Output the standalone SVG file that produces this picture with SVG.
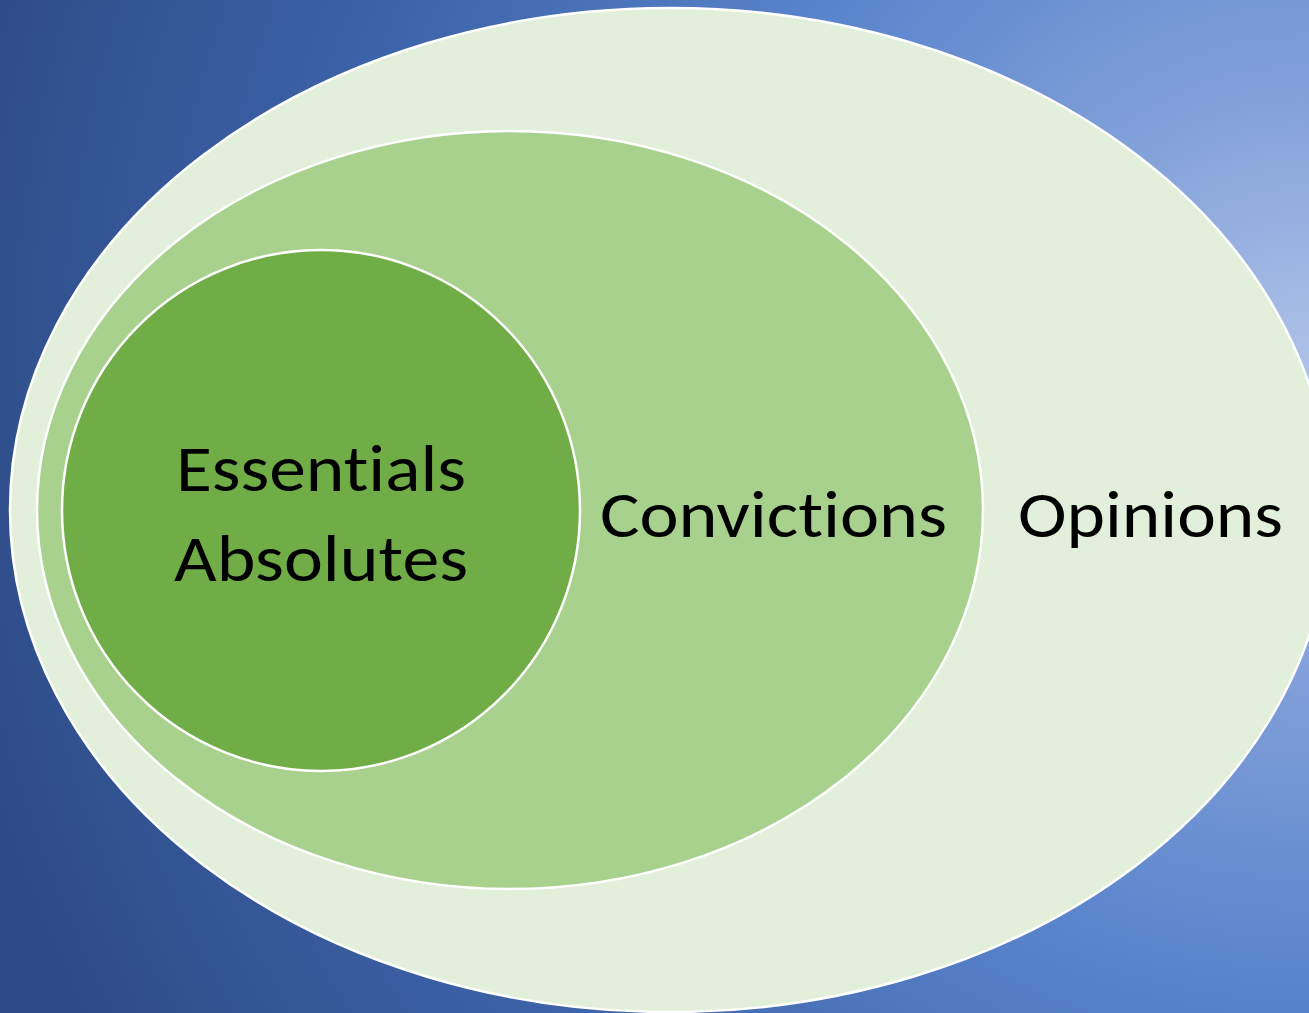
<svg xmlns="http://www.w3.org/2000/svg" width="1309" height="1013" viewBox="0 0 1309 1013">
<defs>
<radialGradient id="bg" gradientUnits="userSpaceOnUse" cx="1309" cy="380" r="1420">
<stop offset="0" stop-color="#AFC3E7"/>
<stop offset="0.22" stop-color="#7F9ED8"/>
<stop offset="0.42" stop-color="#5A84CC"/>
<stop offset="0.7" stop-color="#3C62A8"/>
<stop offset="1" stop-color="#2C4983"/>
</radialGradient>
<style>
.ring{stroke:#FFFFFF;stroke-width:2.5}
.lbl{font-family:Carlito,Calibri,Lato,"Liberation Sans",sans-serif;font-size:65px;fill:#000000;text-anchor:middle;font-variant-ligatures:none;font-feature-settings:"liga" 0}
</style>
</defs>
<rect x="0" y="0" width="1309" height="1013" fill="url(#bg)"/>
<g id="opinions">
<ellipse class="ring" cx="670" cy="510" rx="660" ry="502" fill="#E2EFDA"/>
<text class="lbl" x="1150.5" y="537" textLength="265" lengthAdjust="spacingAndGlyphs">Opinions</text>
</g>
<g id="convictions">
<ellipse class="ring" cx="510" cy="510" rx="473" ry="379" fill="#A9D18E"/>
<text class="lbl" x="773.5" y="537" textLength="347" lengthAdjust="spacingAndGlyphs">Convictions</text>
</g>
<g id="essentials">
<ellipse class="ring" cx="321" cy="510.5" rx="259" ry="260.5" fill="#70AD47"/>
<text class="lbl" x="321" y="491" textLength="290" lengthAdjust="spacingAndGlyphs">Essentials</text>
<text class="lbl" x="321" y="581" textLength="294" lengthAdjust="spacingAndGlyphs">Absolutes</text>
</g>
<g id="connectors"/>
</svg>
